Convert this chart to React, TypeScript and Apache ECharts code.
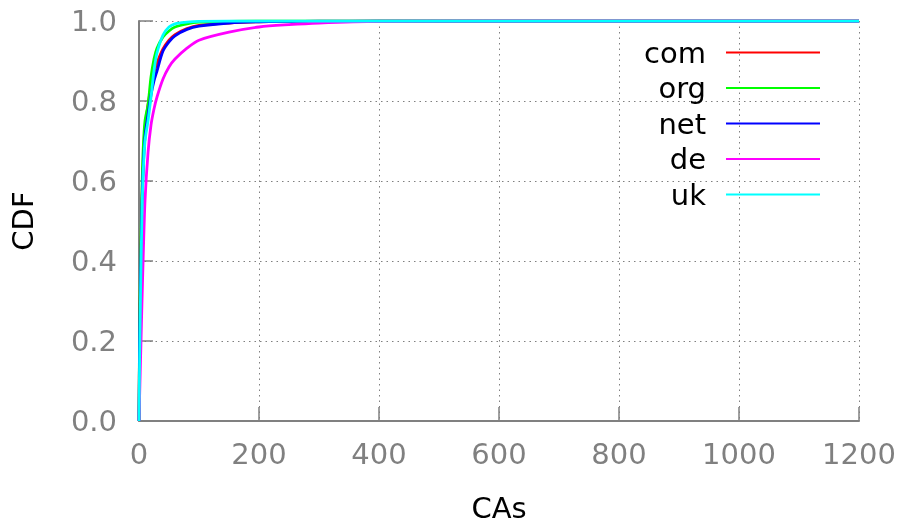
import React, { useEffect, useRef } from "react";
import * as echarts from "echarts";

const xValues = [0, 1, 2, 3, 5, 7, 10, 15, 20, 25, 30, 40, 50, 60, 80, 100, 150, 200, 250, 300, 400, 600, 1200];
const seriesNames = ["com", "org", "net", "de", "uk"];
const seriesColors = ["#ff0000", "#00ff00", "#0000ff", "#ff00ff", "#00ffff"];
const comValues = [0, 0.2, 0.3, 0.4, 0.56, 0.65, 0.73, 0.79, 0.835, 0.87, 0.895, 0.93, 0.952, 0.966, 0.981, 0.989, 0.995, 0.998, 0.999, 0.9995, 1, 1, 1];
const orgValues = [0, 0.22, 0.33, 0.43, 0.58, 0.68, 0.75, 0.79, 0.86, 0.905, 0.932, 0.96, 0.975, 0.985, 0.993, 0.997, 0.999, 1, 1, 1, 1, 1, 1];
const netValues = [0, 0.19, 0.29, 0.38, 0.54, 0.63, 0.71, 0.765, 0.815, 0.85, 0.875, 0.925, 0.948, 0.963, 0.979, 0.987, 0.995, 0.998, 0.999, 0.9995, 1, 1, 1];
const deValues = [0, 0.06, 0.12, 0.18, 0.3, 0.41, 0.55, 0.67, 0.74, 0.78, 0.81, 0.855, 0.885, 0.905, 0.932, 0.952, 0.972, 0.985, 0.991, 0.995, 0.999, 1, 1];
const ukValues = [0, 0.15, 0.26, 0.36, 0.52, 0.62, 0.7, 0.75, 0.81, 0.875, 0.92, 0.965, 0.985, 0.993, 0.997, 0.999, 1, 1, 1, 1, 1, 1, 1];
const allValues = [comValues, orgValues, netValues, deValues, ukValues];
const xTicks = { min: 0, max: 1200, interval: 200 };
const yTicks = { min: 0, max: 1, interval: 0.2 };

export default function App() {
  const ref = useRef<HTMLDivElement>(null);
  useEffect(() => {
    if (!ref.current) return;
    const chart = echarts.init(ref.current, null, { renderer: "svg" });
    const gray = "#808080";
    const font = "DejaVu Sans";
    const fs = 29;
    chart.setOption({
      animation: false,
      textStyle: { fontFamily: font },
      grid: { left: 139, right: 44, top: 21, bottom: 103, containLabel: false, outerBoundsMode: "none" },
      legend: {
        orient: "vertical",
        align: "right",
        right: 83,
        top: 38,
        padding: 0,
        itemWidth: 94,
        itemHeight: 30,
        itemGap: 6.5,
        icon: "path://M0,14L94,14L94,16L0,16Z",
        textStyle: { fontSize: fs, color: "#000", fontFamily: font, width: 80, align: "right", padding: [0, 15, 0, 0] },
        data: seriesNames,
      },
      xAxis: {
        type: "value",
        min: xTicks.min,
        max: xTicks.max,
        interval: xTicks.interval,
        name: "CAs",
        nameLocation: "middle",
        nameGap: 72,
        nameTextStyle: { fontSize: fs, color: "#000", fontFamily: font },
        axisLine: { show: true, lineStyle: { color: gray, width: 2 } },
        axisTick: { show: true, inside: true, length: 14, lineStyle: { color: gray, width: 1.5 } },
        axisLabel: { fontSize: fs, color: gray, margin: 18, fontFamily: font, formatter: (v: number) => String(v) },
        splitLine: { show: true, lineStyle: { color: gray, width: 1, type: [1.5, 4] } },
      },
      yAxis: {
        type: "value",
        min: yTicks.min,
        max: yTicks.max,
        interval: yTicks.interval,
        name: "CDF",
        nameLocation: "middle",
        nameRotate: 90,
        nameGap: 102,
        nameTextStyle: { fontSize: fs, color: "#000", fontFamily: font },
        axisLine: { show: true, lineStyle: { color: gray, width: 2 } },
        axisTick: { show: true, inside: true, length: 14, lineStyle: { color: gray, width: 1.5 } },
        axisLabel: { fontSize: fs, color: gray, margin: 22, fontFamily: font, formatter: (v: number) => v.toFixed(1) },
        splitLine: { show: true, lineStyle: { color: gray, width: 1, type: [1.5, 4] } },
      },
      series: seriesNames.map((name, i) => ({
        name,
        type: "line",
        showSymbol: false,
        symbol: "none",
        smooth: 0.3,
        lineStyle: { color: seriesColors[i], width: 2.8 },
        itemStyle: { color: seriesColors[i] },
        data: xValues.map((x, j) => [x, allValues[i][j]]),
      })),
    });
    return () => chart.dispose();
  }, []);
  return <div ref={ref} style={{ position: "fixed", left: 0, top: 0, width: 903, height: 524 }} />;
}
